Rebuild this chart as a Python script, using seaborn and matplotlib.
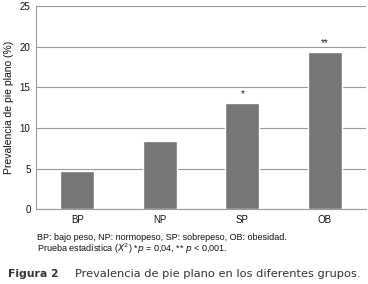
import matplotlib
matplotlib.use('Agg')
import seaborn as sns
import matplotlib.pyplot as plt
import pandas as pd

# datos
grupos = ['BP', 'NP', 'SP', 'OB']
prevalencia = [4.7, 8.4, 13.1, 19.3]
marcas = ['', '', '*', '**']

df = pd.DataFrame({'grupo': grupos, 'prev': prevalencia})

sns.set_style('white')
plt.rcParams['font.family'] = ['Liberation Sans', 'DejaVu Sans']

fig = plt.figure(figsize=(3.68, 2.84), dpi=100)
ax = fig.add_axes([0.098, 0.263, 0.897, 0.716])

sns.barplot(x='grupo', y='prev', data=df, color='#767676', width=0.41,
            saturation=1, ax=ax, zorder=3)

# asteriscos de significación
for i, (v, m) in enumerate(zip(prevalencia, marcas)):
    if m:
        ax.text(i, v + 0.5, m, ha='center', va='bottom', fontsize=7, color='#222222')

ax.set_ylim(0, 25)
ax.set_xlim(-0.5, 3.5)
ax.set_yticks([0, 5, 10, 15, 20, 25])
ax.yaxis.grid(True, color='#9a9a9a', linewidth=0.8, zorder=0)
ax.set_axisbelow(True)

for s in ['top', 'right']:
    ax.spines[s].set_visible(False)
for s in ['left', 'bottom']:
    ax.spines[s].set_color('#9a9a9a')
    ax.spines[s].set_linewidth(0.8)

ax.set_xticks([0.5, 1.5, 2.5, 3.5], minor=True)
ax.tick_params(axis='x', which='major', length=0, labelsize=7, pad=4, colors='#111111')
ax.tick_params(axis='x', which='minor', length=3, color='#9a9a9a', width=0.8)
ax.tick_params(axis='y', length=3, color='#9a9a9a', width=0.8, labelsize=7, pad=1,
               labelcolor='#111111')

ax.set_xlabel('')
ax.set_ylabel('Prevalencia de pie plano (%)', fontsize=7.5, labelpad=4, color='#111111')

fig.text(0.100, 0.165, 'BP: bajo peso, NP: normopeso, SP: sobrepeso, OB: obesidad.',
         fontsize=6.5, color='#111111', va='center')
fig.text(0.100, 0.123, 'Prueba estadística ($X^2$) *$p$ = 0,04, ** $p$ < 0,001.',
         fontsize=6.5, color='#111111', va='center')

fig.text(0.022, 0.035, 'Figura 2', fontsize=7.8, fontweight='bold', color='#333333',
         va='center', family=['DejaVu Sans'])
fig.text(0.204, 0.035, 'Prevalencia de pie plano en los diferentes grupos.', fontsize=8.2,
         color='#333333', va='center', family=['DejaVu Sans'])

fig.savefig('out.png', dpi=100)
